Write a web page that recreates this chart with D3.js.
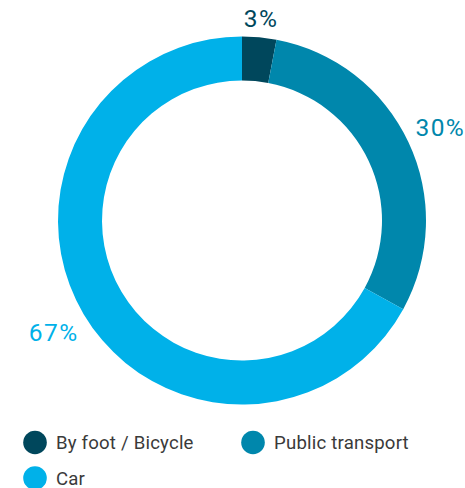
<!DOCTYPE html>
<html>
<head>
<meta charset="utf-8">
<script src="https://cdn.jsdelivr.net/npm/d3@7"></script>
<style>
  html, body { margin: 0; padding: 0; background: #fff; }
  svg { display: block; }
  text { font-family: Roboto, "Noto Sans", sans-serif; }
</style>
</head>
<body>
<svg id="chart" width="465" height="488"></svg>
<script>
// Modal split of trips
const categories = ["By foot / Bicycle", "Public transport", "Car"];
const shares = [3, 30, 67];
const colors = ["#00475c", "#0087ac", "#00b1e9"];

const width = 465, height = 488;
const cx = 242, cy = 220.5;
const outerR = 184, innerR = 140;
const labelGap = 9;
const pctSize = 24.5;
const capH = pctSize * 0.71;

const svg = d3.select("#chart");

const data = categories.map((c, i) => ({ name: c, value: shares[i], color: colors[i] }));

const pie = d3.pie().value(d => d.value).sort(null);
const arc = d3.arc().innerRadius(innerR).outerRadius(outerR);

const g = svg.append("g").attr("transform", `translate(${cx},${cy})`);
const arcs = pie(data);

g.selectAll("path.slice")
  .data(arcs)
  .join("path")
  .attr("class", "slice")
  .attr("d", arc)
  .attr("fill", d => d.data.color);

// Percentage labels sit just outside the ring, pushed out by their own half-extent
g.selectAll("text.pct")
  .data(arcs)
  .join("text")
  .attr("class", "pct")
  .attr("text-anchor", "middle")
  .attr("font-size", pctSize)
  .attr("letter-spacing", 1.4)
  .attr("fill", d => d.data.color)
  .text(d => d.data.value + "%")
  .each(function(d) {
    const a = (d.startAngle + d.endAngle) / 2;
    const dx = Math.sin(a), dy = -Math.cos(a);
    const w = this.getComputedTextLength();
    const ext = Math.abs(dx) * w / 2 + Math.abs(dy) * capH / 2;
    const r = outerR + labelGap + ext;
    d3.select(this).attr("x", dx * r).attr("y", dy * r + capH / 2);
  });

// Legend
const legendCols = 2;
const colX = d3.scaleOrdinal().domain([0, 1]).range([35, 253]);
const rowY = d3.scaleOrdinal().domain([0, 1]).range([442.5, 478]);

const legend = svg.append("g")
  .selectAll("g")
  .data(data)
  .join("g")
  .attr("transform", (d, i) => `translate(${colX(i % legendCols)},${rowY(Math.floor(i / legendCols))})`);

legend.append("circle")
  .attr("r", 11.8)
  .attr("fill", d => d.color);

legend.append("text")
  .attr("x", 21)
  .attr("dy", "0.36em")
  .attr("font-size", 18.6)
  .attr("letter-spacing", 0.2)
  .attr("fill", "#3a3a3a")
  .text(d => d.name);
</script>
</body>
</html>
